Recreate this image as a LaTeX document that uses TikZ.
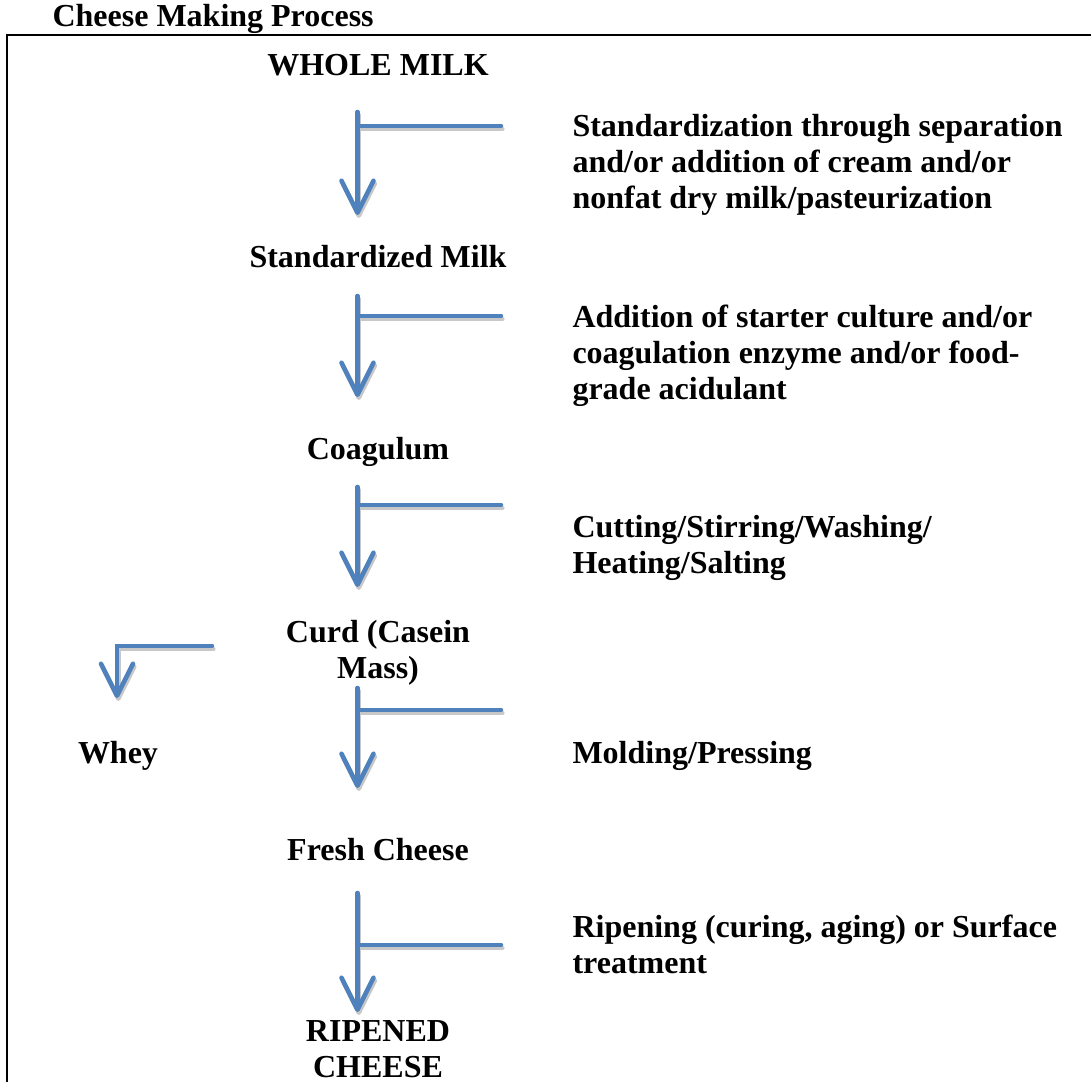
\documentclass[tikz,border=0pt]{standalone}
\usepackage{fontspec}
\setmainfont{Liberation Serif}
\usetikzlibrary{arrows.meta}
\definecolor{flowblue}{HTML}{4F81BD}
\definecolor{shadowgray}{HTML}{C8C8C8}
\begin{document}
\begin{tikzpicture}[x=0.375pt,y=-0.375pt,
  lbl/.style={font=\fontsize{12}{13.5}\selectfont\bfseries, inner sep=0pt, anchor=base, align=center},
  side/.style={font=\fontsize{12}{13.5}\selectfont\bfseries, inner sep=0pt, anchor=base west, align=left},
  flowline/.style={line width=1.7pt, line cap=round, line join=round},
  flowarrow/.style={flowline, -{Straight Barb[length=12pt,width=12pt,round]}},
  frame/.style={line width=1.1pt, draw=black}
]
\useasboundingbox (0,0) rectangle (1091,1082);
% frame
\draw[frame] (7,1085) -- (7,35) -- (1095,35);
% labels (multi-line nodes: base = baseline of last line)
\node[lbl, anchor=base west] (title) at (52,27) {Cheese Making Process};
\node[lbl] (milk) at (378,76) {WHOLE MILK};
\node[lbl] (std) at (378,268) {Standardized Milk};
\node[lbl] (coag) at (378,460) {Coagulum};
\node[lbl] (curd) at (378,679) {Curd (Casein\\Mass)};
\node[lbl] (fresh) at (378,861) {Fresh Cheese};
\node[lbl] (ripe) at (378,1078) {RIPENED\\CHEESE};
\node[lbl] (whey) at (118,764) {Whey};
\node[side] (s1) at (572,209) {Standardization through separation\\and/or addition of cream and/or\\nonfat dry milk/pasteurization};
\node[side] (s2) at (572,400) {Addition of starter culture and/or\\coagulation enzyme and/or food-\\grade acidulant};
\node[side] (s3) at (572,574) {Cutting/Stirring/Washing/\\Heating/Salting};
\node[side] (s4) at (572,764) {Molding/Pressing};
\node[side] (s5) at (572,974) {Ripening (curing, aging) or Surface\\treatment};
% connector coordinates
\foreach \i/\t/\j/\h in {1/112/126/215, 2/296/316/397, 3/487/505/587, 4/688/710/788, 5/893/945/1012}{
  \coordinate (t\i) at (357.5,\t);
  \coordinate (j\i) at (357.5,\j);
  \coordinate (e\i) at (501,\j);
  \coordinate (h\i) at (357.5,\h);
}
\coordinate (wa) at (212,646);
\coordinate (wb) at (117,646);
\coordinate (wc) at (117,698);
% shadows
\begin{scope}[transform canvas={shift={(0.5pt,-1.1pt)}}, draw=shadowgray]
  \foreach \i in {1,...,5}{
    \draw[flowline, shadowgray] (j\i) -- (e\i);
    \draw[flowarrow, shadowgray] (t\i) -- (h\i);
  }
  \draw[flowarrow, shadowgray, line join=miter] (wa) -- (wb) -- (wc);
\end{scope}
% arrows
\foreach \i in {1,...,5}{
  \draw[flowline, flowblue] (j\i) -- (e\i);
  \draw[flowarrow, flowblue] (t\i) -- (h\i);
}
\draw[flowarrow, flowblue, line join=miter] (wa) -- (wb) -- (wc);
\end{tikzpicture}
\end{document}
